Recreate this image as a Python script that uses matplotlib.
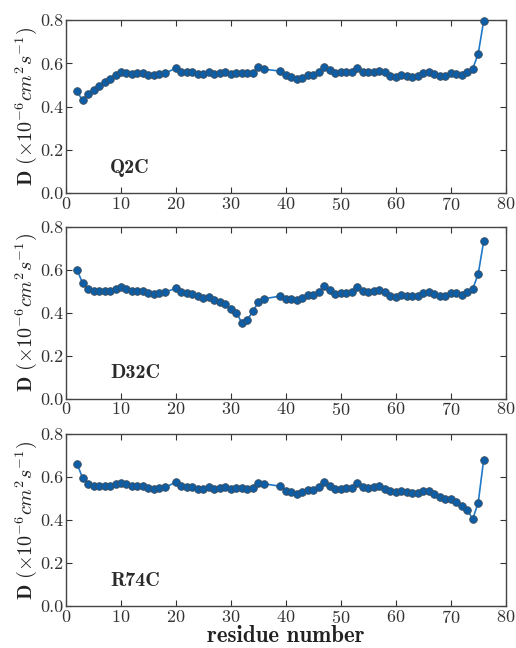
import matplotlib
matplotlib.use('Agg')

import numpy as np
import matplotlib.pyplot as plt

# residues 2-76, prolines 19, 37, 38 missing
residues = [r for r in range(2, 77) if r not in (19, 37, 38)]

q2c = [0.470, 0.429, 0.459, 0.479, 0.497, 0.516, 0.528, 0.544, 0.561, 0.556,
       0.553, 0.556, 0.556, 0.548, 0.548, 0.553, 0.554,
       0.578, 0.562, 0.558, 0.558, 0.551, 0.550, 0.558, 0.553, 0.556, 0.559,
       0.553, 0.556, 0.556, 0.556, 0.556, 0.581, 0.573,
       0.564, 0.545, 0.537, 0.528, 0.534, 0.547, 0.545, 0.561, 0.585, 0.570,
       0.556, 0.558, 0.558, 0.559, 0.579, 0.561, 0.558, 0.562, 0.565, 0.558,
       0.542, 0.537, 0.547, 0.542, 0.539, 0.542, 0.554, 0.558, 0.550, 0.542,
       0.542, 0.554, 0.553, 0.545, 0.559, 0.575, 0.644, 0.797]

d32c = [0.600, 0.538, 0.512, 0.502, 0.501, 0.501, 0.502, 0.510, 0.519, 0.510,
        0.502, 0.502, 0.501, 0.491, 0.488, 0.491, 0.496,
        0.513, 0.496, 0.490, 0.485, 0.476, 0.468, 0.471, 0.457, 0.450, 0.439,
        0.419, 0.400, 0.352, 0.367, 0.406, 0.450, 0.465,
        0.477, 0.464, 0.464, 0.459, 0.470, 0.481, 0.481, 0.498, 0.522, 0.505,
        0.488, 0.491, 0.491, 0.498, 0.518, 0.499, 0.496, 0.501, 0.504, 0.496,
        0.479, 0.474, 0.482, 0.479, 0.476, 0.479, 0.493, 0.498, 0.487, 0.478,
        0.478, 0.491, 0.491, 0.484, 0.495, 0.510, 0.580, 0.733]

r74c = [0.662, 0.597, 0.569, 0.558, 0.557, 0.557, 0.558, 0.568, 0.575, 0.568,
        0.560, 0.558, 0.558, 0.549, 0.547, 0.551, 0.552,
        0.577, 0.560, 0.555, 0.554, 0.546, 0.543, 0.552, 0.547, 0.551, 0.554,
        0.546, 0.551, 0.551, 0.547, 0.551, 0.575, 0.569,
        0.558, 0.538, 0.530, 0.524, 0.532, 0.541, 0.541, 0.555, 0.578, 0.561,
        0.546, 0.547, 0.549, 0.551, 0.572, 0.552, 0.549, 0.552, 0.557, 0.547,
        0.534, 0.529, 0.535, 0.530, 0.527, 0.526, 0.538, 0.538, 0.523, 0.507,
        0.498, 0.498, 0.484, 0.467, 0.449, 0.405, 0.481, 0.682]

mutants = ["Q2C", "D32C", "R74C"]
series = [q2c, d32c, r74c]

plt.rcParams['font.family'] = 'serif'
plt.rcParams['font.serif'] = ['cmr10']
plt.rcParams['mathtext.fontset'] = 'cm'
plt.rcParams['axes.unicode_minus'] = False
plt.rcParams['axes.formatter.use_mathtext'] = True

fig = plt.figure(figsize=(5.16, 6.48), dpi=100)

# axes boxes [left, bottom, width, height] in figure fractions
boxes = [[0.128, 0.702, 0.852, 0.267],
         [0.128, 0.385, 0.852, 0.265],
         [0.128, 0.0645, 0.852, 0.2655]]

for box, name, vals in zip(boxes, mutants, series):
    ax = fig.add_axes(box)
    ax.plot(residues, vals, '-', color='#1f78c8', lw=1.2,
            marker='o', ms=5.5, mfc='#0d5ea6', mec='#3d4d5c', mew=0.6,
            clip_on=False, zorder=3)
    ax.set_xlim(0, 80)
    ax.set_ylim(0, 0.8)
    ax.set_xticks(np.arange(0, 81, 10))
    ax.set_yticks(np.arange(0, 0.81, 0.2))
    ax.set_yticklabels(["%.1f" % v for v in np.arange(0, 0.81, 0.2)])
    ax.tick_params(direction='in', top=True, right=True, length=4.5,
                   labelsize=13, colors='#333333', pad=2)
    for sp in ax.spines.values():
        sp.set_color('#444444')
        sp.set_linewidth(1.0)
    ax.set_ylabel(r'$\mathbf{D}\ (\times10^{-6}cm^2s^{-1})$', fontsize=14.5,
                  color='#222222', labelpad=1)
    ax.text(8, 0.095, name, fontsize=14.5, fontfamily='cmb10',
            color='#2a2a2a', va='baseline')

ax.set_xlabel('residue number', fontsize=16.5, fontfamily='cmb10',
              color='#222222', labelpad=-1)

fig.savefig('out.png', dpi=100)
